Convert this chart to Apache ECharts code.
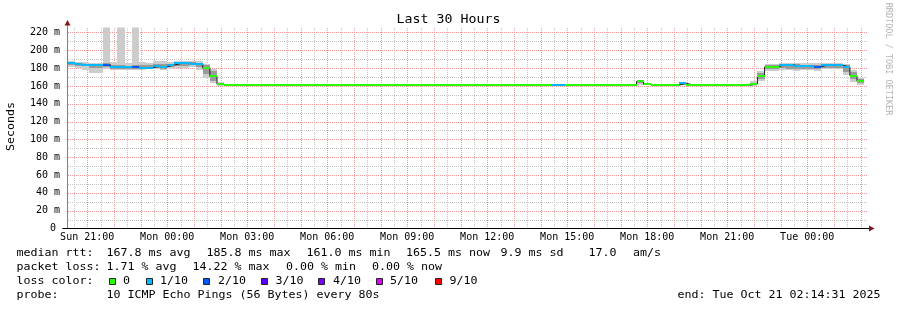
<!DOCTYPE html>
<html>
<head>
<meta charset="utf-8">
<script src="https://cdn.jsdelivr.net/npm/echarts@6/dist/echarts.min.js"></script>
<style>html,body{margin:0;padding:0;background:#fff;overflow:hidden}#c{width:897px;height:310px}</style>
</head>
<body>
<div id="c"></div>
<script>
// ---- time frame (hours counted from Sun 00:00) ----
const startHour = 20 + 14/60 + 31/3600;   // Sun 20:14:31
const endHour = startHour + 30;            // Tue 02:14:31
const firstStepHour = 20 + 16/60;          // first 16-minute RRD step
const stepHours = 16/60;

// ---- axis ticks / labels ----
const xLabelHours = [21, 24, 27, 30, 33, 36, 39, 42, 45, 48];
const dayNames = ['Sun', 'Mon', 'Tue'];
const yLabels = [0, 20, 40, 60, 80, 100, 120, 140, 160, 180, 200, 220];
const xMajorGrid = [21,22,23,24,25,26,27,28,29,30,31,32,33,34,35,36,37,38,39,40,41,42,43,44,45,46,47,48,49,50];
const xMinorGrid = [20.5,21.5,22.5,23.5,24.5,25.5,26.5,27.5,28.5,29.5,30.5,31.5,32.5,33.5,34.5,35.5,36.5,37.5,38.5,39.5,40.5,41.5,42.5,43.5,44.5,45.5,46.5,47.5,48.5,49.5];
const yMajorGrid = [20, 40, 60, 80, 100, 120, 140, 160, 180, 200, 220];
const yMinorGrid = [10, 30, 50, 70, 90, 110, 130, 150, 170, 190, 210];

// ---- median rtt (ms) per 16 min step ----
const medianRtt = [
 185.5,184.3,184.0,183.2,183.2,184.0,181.2,180.8,181.0,180.8,
 180.6,180.6,182.0,181.5,183.5,185.2,185.4,185.0,185.0,179.8,
 170.8,161.8,161.0,161.0,161.2,161.0,161.0,161.0,161.2,161.0,
 161.0,161.0,161.0,161.2,161.0,161.0,161.0,161.0,161.0,161.2,
 161.0,161.0,161.0,161.0,161.0,161.2,161.0,161.0,161.0,161.0,
 161.2,161.0,161.0,161.0,161.0,161.0,161.0,161.2,161.0,161.0,
 161.0,161.0,161.2,161.0,161.0,161.0,161.0,161.0,161.2,161.0,
 161.0,161.0,161.0,161.0,161.2,161.0,161.0,161.0,161.0,161.0,
 165.0,161.8,161.0,161.0,161.0,161.0,163.0,161.0,161.0,161.2,
 161.0,161.0,161.0,161.0,161.2,161.0,162.2,171.0,181.5,181.8,
 183.6,183.6,182.2,182.0,182.0,181.6,183.6,183.6,183.2,181.2,
 171.5,165.5
];
// ---- lost pings (of 10) per step ----
const lossPings = [
 1,1,1,1,1,2,1,1,1,2,
 1,1,1,1,1,1,1,1,1,0,
 0,0,0,0,0,0,0,0,0,0,
 0,0,0,0,0,0,0,0,0,0,
 0,0,0,0,0,0,0,0,0,0,
 0,0,0,0,0,0,0,0,0,0,
 0,0,0,0,0,0,0,0,1,1,
 0,0,0,0,0,0,0,0,0,0,
 0,0,0,0,0,0,1,0,0,0,
 0,0,0,0,0,0,0,0,0,0,
 1,1,1,1,1,2,1,1,1,1,
 0,0
];
// ---- smoke: outer (min/max) and inner (low/high) ping spread ----
const smokeMin = [
 181.0,180.0,177.5,174.5,175.0,179.5,178.0,178.0,178.0,178.0,
 178.0,178.5,179.0,178.0,179.0,180.0,180.0,181.0,177.5,169.0,
 163.0,160.5,161,161,161,161,161,161,161,161,
 161,161,161,161,161,161,161,161,161,161,
 161,161,161,161,161,161,161,161,161,161,
 161,161,161,161,161,161,161,161,161,161,
 161,161,161,161,161,161,161,161,161,161,
 161,161,161,161,161,161,161,161,161,161,
 161.0,161.0,161,161,161,161,161.0,161,161,161,
 161,161,161,161,161,161,160.0,165.5,176.5,177.0,
 178.0,177.5,177.0,177.5,177.5,177.0,178.5,179.0,178.5,172.0,
 164.0,161.5
];
const smokeLow = [
 183.0,182.5,182.0,180.0,180.5,181.5,179.5,179.5,179.5,179.0,
 179.0,179.5,180.0,179.5,181.0,182.0,182.5,183.0,181.0,173.0,
 166.0,161.0,161,161,161,161,161,161,161,161,
 161,161,161,161,161,161,161,161,161,161,
 161,161,161,161,161,161,161,161,161,161,
 161,161,161,161,161,161,161,161,161,161,
 161,161,161,161,161,161,161,161,161,161,
 161,161,161,161,161,161,161,161,161,161,
 163.0,161.2,161,161,161,161,161.5,161,161,161,
 161,161,161,161,161,161,161.0,168.0,179.0,179.0,
 180.0,179.5,179.0,179.0,179.0,178.5,180.5,180.5,180.0,176.0,
 167.5,163.0
];
const smokeHigh = [
 186.5,185.5,185.0,184.5,184.5,186.0,183.5,183.0,182.5,183.0,
 184.0,183.0,185.0,184.5,185.0,186.0,186.5,186.5,186.0,183.0,
 177.0,163.0,161,161,161,161,161,161,161,161,
 161,161,161,161,161,161,161,161,161,161,
 161,161,161,161,161,161,161,161,161,161,
 161,161,161,161,161,161,161,161,161,161,
 161,161,161,161,161,161,161,161,161,161,
 161,161,161,161,161,161,161,161,161,161,
 165.5,162.5,161,161,161,161,163.5,161,161,161,
 161,161,161,161,161,161,163.5,175.0,183.0,183.0,
 184.5,185.0,184.5,184.0,184.0,184.0,185.0,185.0,184.5,183.0,
 175.5,167.5
];
const smokeMax = [
 187.5,186.5,186.5,186.0,186.0,260.0,186.5,260.0,186.0,260.0,
 187.0,185.5,187.5,187.5,186.5,187.5,187.5,188.0,188.0,185.0,
 179.5,164.0,161,161,161,161,161,161,161,161,
 161,161,161,161,161,161,161,161,161,161,
 161,161,161,161,161,161,161,161,161,161,
 161,161,161,161,161,161,161,161,161,161,
 161,161,161,161,161,161,161,161,161,161,
 161,161,161,161,161,161,161,161,161,161,
 166.5,163.0,161,161,161,161,164.0,161,161,161,
 161,161,161,161,161,161,165.0,177.0,184.5,184.5,
 186.0,186.0,186.0,185.5,185.5,185.5,186.0,186.0,185.5,184.5,
 178.0,169.0
];

const lossColors = ['#26ff00', '#00b8ff', '#0059ff', '#5e00ff', '#7e00ff', '#dd00ff', '#ff0000'];
const legendLossLabels = ['0', '1/10', '2/10', '3/10', '4/10', '5/10', '9/10'];

const titleText = 'Last 30 Hours';
const yAxisTitle = 'Seconds';
const watermark = 'RRDTOOL / TOBI OETIKER';
const statLines = [
  [['median rtt:', 16.5], ['167.8 ms avg', 106.5], ['185.8 ms max', 206.5], ['161.0 ms min', 306.5], ['165.5 ms now', 406], ['9.9 ms sd', 500.5], ['17.0', 588.5], ['am/s', 633]],
  [['packet loss:', 16.5], ['1.71 % avg', 106.5], ['14.22 % max', 192.5], ['0.00 % min', 286], ['0.00 % now', 372]],
  [['loss color:', 16.5]],
  [['probe:', 16.5], ['10 ICMP Echo Pings (56 Bytes) every 80s', 106.5], ['end: Tue Oct 21 02:14:31 2025', 677.5]]
];

// ---------------------------------------------------------------
const FONT = "'DejaVu Sans Mono', monospace";
const chart = echarts.init(document.getElementById('c'), null, {renderer: 'canvas'});

const segs = medianRtt.map((m, k) => {
  const t = firstStepHour + k * stepHours;
  return [t, t + stepHours, smokeMin[k], smokeLow[k], smokeHigh[k], smokeMax[k], m, lossPings[k]];
});
const linePts = segs.map(s => [s[0], s[6]]);
linePts.push([segs[segs.length - 1][1], medianRtt[medianRtt.length - 1]]);

function lossColor(n) { return n <= 5 ? lossColors[n] : lossColors[6]; }

// 1-pixel dotted patterns (one pixel on, one off)
function dotPattern(color, vertical) {
  const c = document.createElement('canvas');
  c.width = vertical ? 1 : 2; c.height = vertical ? 2 : 1;
  const g = c.getContext('2d'); g.fillStyle = color; g.fillRect(0, 0, 1, 1);
  return {image: c, repeat: 'repeat'};
}
const patMajorV = dotPattern('#f29a9a', true), patMajorH = dotPattern('#f29a9a', false);
const patMinorV = dotPattern('#c4c4c4', true), patMinorH = dotPattern('#c4c4c4', false);

function gridRender(params, api) {
  const cs = params.coordSys;
  const top = Math.round(cs.y), bottom = Math.round(cs.y + cs.height);
  const left = Math.round(cs.x), right = Math.round(cs.x + cs.width);
  const ch = [];
  const v = (h, pat) => { const x = Math.round(api.coord([h, 0])[0]);
    ch.push({type: 'rect', shape: {x: x, y: top, width: 1, height: bottom - top}, style: {fill: pat}}); };
  const hz = (val, pat) => { const y = Math.round(api.coord([startHour, val])[1]);
    ch.push({type: 'rect', shape: {x: left, y: y, width: right - left, height: 1}, style: {fill: pat}}); };
  xMinorGrid.forEach(h => v(h, patMinorV));
  yMinorGrid.forEach(val => hz(val, patMinorH));
  xMajorGrid.forEach(h => v(h, patMajorV));
  yMajorGrid.forEach(val => hz(val, patMajorH));
  return {type: 'group', children: ch};
}

function smokeRender(params, api) {
  const t0 = api.value(0), t1 = api.value(1);
  const rect = (lo, hi, fill) => {
    const a = api.coord([t0, hi]), b = api.coord([t1, lo]);
    const x0 = Math.round(a[0]), x1 = Math.round(b[0]);
    const y0 = Math.round(a[1]), y1 = Math.round(b[1]);
    if (y1 - y0 < 1) return null;
    return {type: 'rect', shape: {x: x0, y: y0, width: x1 - x0, height: y1 - y0}, style: {fill: fill}};
  };
  const ch = [rect(api.value(2), api.value(5), '#cccccc'), rect(api.value(3), api.value(4), '#9a9a9a')].filter(Boolean);
  return {type: 'group', children: ch};
}

function bandRender(params, api) {
  const m = api.value(6);
  const a = api.coord([api.value(0), m]), b = api.coord([api.value(1), m]);
  const x0 = Math.round(a[0]), x1 = Math.round(b[0]);
  return {type: 'rect', shape: {x: x0, y: Math.round(a[1]) - 1, width: x1 - x0, height: 2},
          style: {fill: lossColor(api.value(7))}};
}

const SX = 7.0 / 6.02;
function txt(x, y, s, opts) {
  const o = opts || {};
  return {type: 'text', x: x, y: y, scaleX: o.scaleX === undefined ? SX : o.scaleX, rotation: o.rotation || 0, silent: true, z: 10,
    style: {text: s, font: (o.size || 10) + 'px ' + FONT, fill: o.fill || '#000',
      align: o.align || 'left', textAlign: o.align || 'left', verticalAlign: 'middle', textVerticalAlign: 'middle'}};
}

const graphics = [];
graphics.push(txt(448.5, 19.5, titleText, {size: 13, align: 'center', scaleX: 1.02}));
graphics.push(txt(11, 126.5, yAxisTitle, {rotation: Math.PI / 2, align: 'center'}));
graphics.push(txt(888, 59, watermark, {rotation: -Math.PI / 2, align: 'center', size: 8.5, fill: '#b4b4b4', scaleX: 1}));
const lineY = [253.5, 267.5, 281.5, 295.5];
statLines.forEach((line, i) => line.forEach(([s, x]) => graphics.push(txt(x, lineY[i], s))));
const squareX = [109, 146, 203, 261, 318, 376, 435];
const squareLabelX = [123, 160, 218, 275.5, 333, 390, 449.5];
legendLossLabels.forEach((lab, i) => {
  graphics.push({type: 'rect', silent: true, z: 10, shape: {x: squareX[i] + 0.5, y: 278.5, width: 6, height: 6},
    style: {fill: lossColors[i], stroke: '#222', lineWidth: 1}});
  graphics.push(txt(squareLabelX[i], lineY[2], lab));
});
// axis extensions and arrows
graphics.push({type: 'line', silent: true, z: 10, shape: {x1: 67.5, y1: 24, x2: 67.5, y2: 28}, style: {stroke: '#808080', lineWidth: 1}});
graphics.push({type: 'polygon', silent: true, z: 10, shape: {points: [[67.5, 20], [64.5, 25.5], [70.5, 25.5]]}, style: {fill: '#801818'}});
graphics.push({type: 'line', silent: true, z: 10, shape: {x1: 62.5, y1: 228.5, x2: 870, y2: 228.5}, style: {stroke: '#000', lineWidth: 1}});
graphics.push({type: 'polygon', silent: true, z: 10, shape: {points: [[874.5, 228.5], [869, 225.5], [869, 231.5]]}, style: {fill: '#801818'}});

const option = {
  animation: false,
  backgroundColor: '#ffffff',
  grid: {left: 67, top: 27.5, width: 800, height: 201, containLabel: false},
  xAxis: {
    type: 'value', min: startHour, max: endHour,
    axisLine: {show: false}, axisTick: {show: false}, splitLine: {show: false},
    axisLabel: {
      customValues: xLabelHours, margin: 4, fontFamily: FONT, fontSize: 10, color: '#000',
      formatter: h => dayNames[Math.floor(h / 24)] + ' ' + String(h % 24).padStart(2, '0') + ':00'
    }
  },
  yAxis: {
    type: 'value', min: 0, max: 225.6,
    axisLine: {show: true, lineStyle: {color: '#808080', width: 1}}, axisTick: {show: false}, splitLine: {show: false},
    axisLabel: {
      customValues: yLabels, margin: 7, fontFamily: FONT, fontSize: 10, color: '#000',
      formatter: v => v === 0 ? '{z|0}' : v + ' m',
      rich: {z: {fontFamily: FONT, fontSize: 10, color: '#000', padding: [0, 4, 0, 0]}}
    }
  },
  graphic: {elements: graphics},
  series: [
    {type: 'custom', name: 'grid', z: 1, silent: true, renderItem: gridRender, data: [[startHour, 0]], clip: true},
    {type: 'custom', name: 'smoke', z: 2, silent: true, renderItem: smokeRender, data: segs, clip: true,
     encode: {x: [0, 1], y: [2, 5]}},
    {type: 'line', name: 'median', z: 3, silent: true, step: 'end', data: linePts, showSymbol: false, symbol: 'none',
     lineStyle: {color: '#202020', width: 1}},
    {type: 'custom', name: 'loss', z: 4, silent: true, renderItem: bandRender, data: segs, clip: true,
     encode: {x: [0, 1], y: 6}}
  ]
};
chart.setOption(option);
</script>
</body>
</html>
